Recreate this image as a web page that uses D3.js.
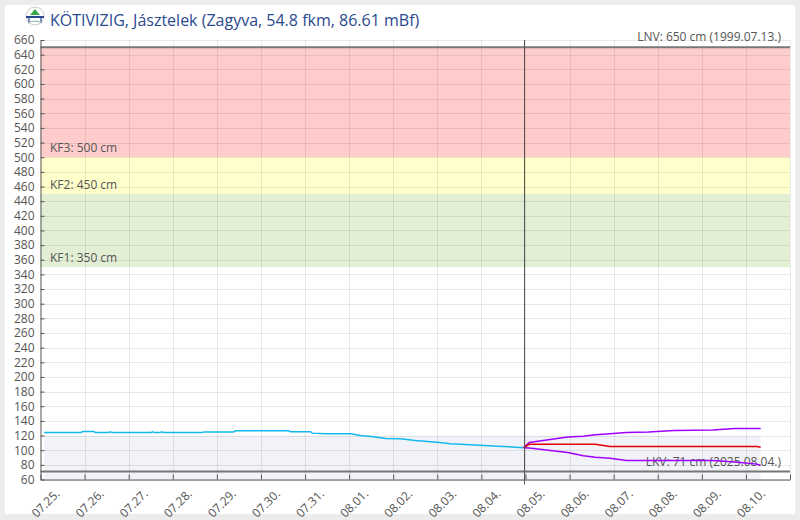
<!DOCTYPE html>
<html>
<head>
<meta charset="utf-8">
<script src="https://cdn.jsdelivr.net/npm/d3@7"></script>
<style>
  body { margin: 0; background: #ececec; }
  svg { display: block; font-family: "Open Sans", sans-serif; }
</style>
</head>
<body>
<script>
// observed water level (cm)
const observedTimes = ["2025-07-25 02:00","2025-07-25 22:00","2025-07-25 23:00","2025-07-26 05:00","2025-07-26 06:00",
  "2025-07-26 13:00","2025-07-26 14:00","2025-07-26 15:00","2025-07-27 12:00","2025-07-27 13:00","2025-07-27 14:00",
  "2025-07-27 17:00","2025-07-27 18:00","2025-07-27 19:00","2025-07-28 16:00","2025-07-28 17:00","2025-07-28 18:00",
  "2025-07-29 09:00","2025-07-29 10:00","2025-07-30 15:00","2025-07-30 16:00","2025-07-31 03:00","2025-07-31 04:00",
  "2025-07-31 11:00","2025-08-01 01:00","2025-08-01 06:00","2025-08-01 12:00","2025-08-01 20:00","2025-08-02 04:00",
  "2025-08-02 12:00","2025-08-03 00:00","2025-08-03 07:00","2025-08-03 18:00","2025-08-04 09:00","2025-08-04 23:00"];
const observedValues = [124,124,125.5,125.5,124,
  124,125,124,124,125,124,
  124,125,124,124,125,125,
  125,126.5,126.5,125.2,125.2,123.3,
  122.5,122.5,120,118.8,116,115.6,
  113.3,111,108.8,107.4,105.5,103.5];

// forecast (cm)
const forecastTimes = ["2025-08-04 23:00","2025-08-05 02:00","2025-08-05 23:00","2025-08-06 07:30","2025-08-06 14:00",
  "2025-08-06 22:00","2025-08-07 07:00","2025-08-07 19:00","2025-08-08 09:00","2025-08-09 06:00","2025-08-09 18:00",
  "2025-08-10 06:00","2025-08-10 08:00"];
const forecastMid   = [103.5,108,108,108,108,105,105,105,105,105,105,105,104];
const forecastUpper = [103.5,110.5,118,119,121,122.5,124,125,127,127.5,129.5,129.5,129.5];
const forecastLower = [103.5,103,97,92.5,90.5,89,86,86,86,86,84,81,79.5];

// shaded low range band
const lowBand = {from: "2025-07-25 02:00", to: "2025-08-10 08:00", top: 120};

// warning levels
const levelNames  = ["KF1", "KF2", "KF3"];
const levelValues = [350, 450, 500];
const lnv = {value: 650, label: "LNV: 650 cm (1999.07.13.)"};
const lkv = {value: 71, label: "LKV: 71 cm (2025.08.04.)"};
const nowTime = "2025-08-04 23:00";

const xTickLabels = ["07.25.","07.26.","07.27.","07.28.","07.29.","07.30.","07.31.","08.01.","08.02.",
  "08.03.","08.04.","08.05.","08.06.","08.07.","08.08.","08.09.","08.10."];
const yTicks = d3.range(60, 661, 20);

const title = "KÖTIVIZIG, Jásztelek (Zagyva, 54.8 fkm, 86.61 mBf)";

const parse = d3.timeParse("%Y-%m-%d %H:%M");
const W = 800, H = 520;
const plot = {left: 40.5, right: 790, top: 40, bottom: 479.5};

const svg = d3.select("body").append("svg").attr("width", W).attr("height", H);

svg.append("rect").attr("x", 5).attr("y", 5).attr("width", 790).attr("height", 509).attr("fill", "#fff");

const x = d3.scaleTime()
  .domain([parse("2025-07-25 00:00"), parse("2025-08-11 00:00")])
  .range([plot.left, plot.right]);
const y = d3.scaleLinear().domain([60, 660]).range([plot.bottom, plot.top]);

// bands
const bands = [
  {lo: levelValues[2], hi: lnv.value, color: "#ffcccc"},
  {lo: levelValues[1], hi: levelValues[2], color: "#ffffcc"},
  {lo: levelValues[0], hi: levelValues[1], color: "#e3efd5"}
];
svg.append("g").selectAll("rect").data(bands).join("rect")
  .attr("x", plot.left).attr("width", plot.right - plot.left)
  .attr("y", d => y(d.hi)).attr("height", d => y(d.lo) - y(d.hi))
  .attr("fill", d => d.color);

// low band
svg.append("rect")
  .attr("x", x(parse(lowBand.from)))
  .attr("width", x(parse(lowBand.to)) - x(parse(lowBand.from)))
  .attr("y", y(lowBand.top)).attr("height", y(60) - y(lowBand.top))
  .attr("fill", "#f2f3f8");

// grid
const tickDates = xTickLabels.map((d, i) => d3.timeDay.offset(parse("2025-07-25 00:00"), i));
const grid = svg.append("g").attr("stroke", "rgba(0,0,0,0.085)").attr("stroke-width", 1);
grid.selectAll(".h").data(yTicks).join("line")
  .attr("x1", plot.left).attr("x2", plot.right)
  .attr("y1", d => Math.round(y(d)) + 0.5).attr("y2", d => Math.round(y(d)) + 0.5);
grid.selectAll(".v").data(tickDates.slice(1).concat([x.domain()[1]])).join("line")
  .attr("x1", d => Math.round(x(d)) + 0.5).attr("x2", d => Math.round(x(d)) + 0.5)
  .attr("y1", plot.top).attr("y2", plot.bottom);

// band labels
svg.append("g").selectAll("text").data(levelNames).join("text")
  .attr("x", 50).attr("y", (d, i) => y(levelValues[i]) - 5)
  .attr("font-size", 12).attr("fill", "#555")
  .text((d, i) => `${d}: ${levelValues[i]} cm`);

// LNV / LKV lines
[lnv, lkv].forEach(l => {
  svg.append("line")
    .attr("x1", plot.left).attr("x2", plot.right)
    .attr("y1", y(l.value)).attr("y2", y(l.value))
    .attr("stroke", "#777").attr("stroke-width", 2);
});
svg.append("text").attr("x", 781).attr("y", y(lnv.value) - 6)
  .attr("text-anchor", "end").attr("font-size", 12).attr("fill", "#555").text(lnv.label);
svg.append("text").attr("x", 781).attr("y", y(lkv.value) - 5)
  .attr("text-anchor", "end").attr("font-size", 12).attr("fill", "#555").text(lkv.label);

// lines
const line = d3.line().x(d => x(d[0])).y(d => y(d[1]));
const obs = observedTimes.map((t, i) => [parse(t), observedValues[i]]);
const fc = (vals) => forecastTimes.map((t, i) => [parse(t), vals[i]]);

svg.append("path").datum(obs).attr("d", line)
  .attr("fill", "none").attr("stroke", "#12b9ee").attr("stroke-width", 1.5);
svg.append("path").datum(fc(forecastUpper)).attr("d", line)
  .attr("fill", "none").attr("stroke", "#a000ff").attr("stroke-width", 1.5);
svg.append("path").datum(fc(forecastLower)).attr("d", line)
  .attr("fill", "none").attr("stroke", "#a000ff").attr("stroke-width", 1.5);
svg.append("path").datum(fc(forecastMid)).attr("d", line)
  .attr("fill", "none").attr("stroke", "#e00000").attr("stroke-width", 1.5);

// now line
svg.append("line")
  .attr("x1", Math.round(x(parse(nowTime))) + 0.5).attr("x2", Math.round(x(parse(nowTime))) + 0.5)
  .attr("y1", plot.top).attr("y2", plot.bottom + 5)
  .attr("stroke", "#555").attr("stroke-width", 1);

// y axis
const yAxis = svg.append("g").attr("transform", `translate(${plot.left},0)`)
  .call(d3.axisLeft(y).tickValues(yTicks).tickSizeInner(-4).tickSizeOuter(0).tickPadding(6));
yAxis.select(".domain").attr("stroke", "#555");
yAxis.selectAll(".tick line").attr("stroke", "#555");
yAxis.selectAll("text").attr("font-size", 12).attr("fill", "#555").attr("font-family", "Open Sans");

// x axis
const xAxis = svg.append("g").attr("transform", `translate(0,${plot.bottom})`)
  .call(d3.axisBottom(x).tickValues(tickDates.concat([x.domain()[1]])).tickSizeInner(-5).tickSizeOuter(0).tickFormat(""));
xAxis.select(".domain").attr("stroke", "#555");
xAxis.selectAll(".tick line").attr("stroke", "#555");

svg.append("g").selectAll("text").data(xTickLabels).join("text")
  .attr("transform", (d, i) => `translate(${x(tickDates[i]) + 20},${plot.bottom + 15}) rotate(-45)`)
  .attr("text-anchor", "end").attr("font-size", 12).attr("fill", "#555")
  .text(d => d);

// title with icon
const icon = svg.append("g").attr("transform", "translate(35,16)");
icon.append("circle").attr("r", 9).attr("fill", "#fff").attr("stroke", "#ccc");
icon.append("path").attr("d", "M0,-7 L5,-1 L-5,-1 Z").attr("fill", "#3aa84a");
icon.append("rect").attr("x", -9).attr("y", 0).attr("width", 18).attr("height", 2).attr("fill", "#2a4a8f");
icon.append("path").attr("d", "M-6,2 L-6,6 M6,2 L6,6").attr("stroke", "#2a4a8f").attr("stroke-width", 1.2);
icon.append("path").attr("d", "M-7,7 Q0,3 7,7").attr("stroke", "#8aa").attr("fill", "none");

svg.append("text").attr("x", 50).attr("y", 26)
  .attr("font-size", 16).attr("fill", "#2a4a8f").text(title);
</script>
</body>
</html>
